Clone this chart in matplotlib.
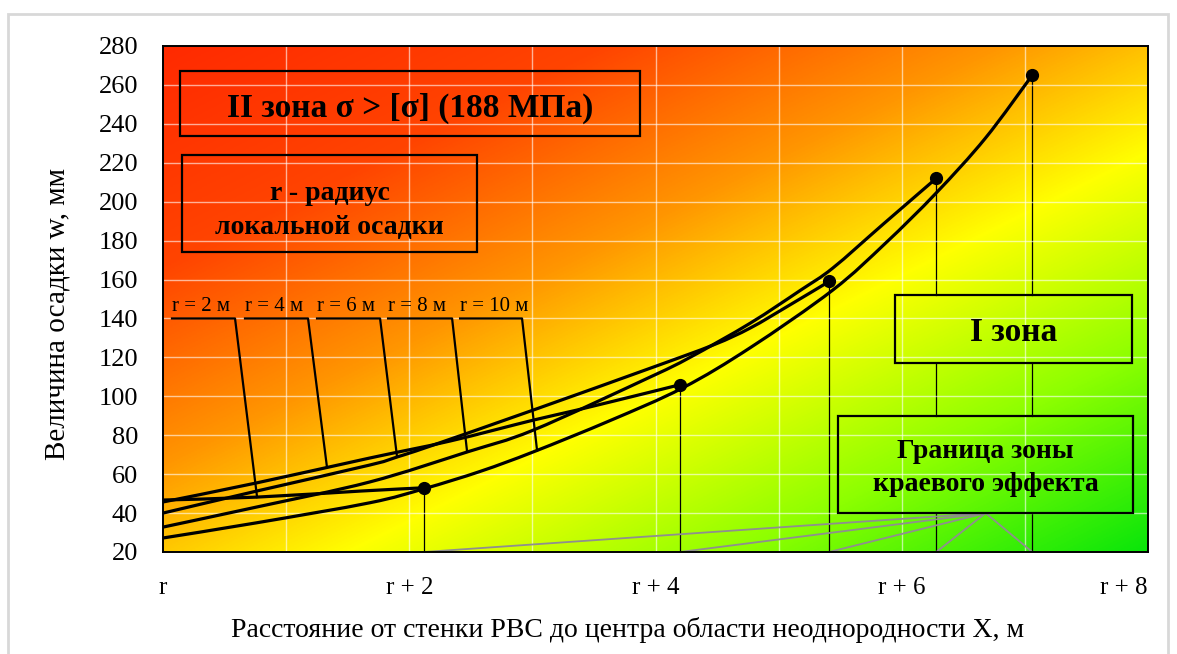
import numpy as np
import matplotlib
matplotlib.use("Agg")
import matplotlib.pyplot as plt
from matplotlib.colors import LinearSegmentedColormap
from matplotlib.patches import Rectangle, PathPatch
from matplotlib.path import Path

plt.rcParams['font.family'] = ['Liberation Serif', 'DejaVu Serif']

# ---- data -----------------------------------------------------------
radius_labels = ['r = 2 м', 'r = 4 м', 'r = 6 м', 'r = 8 м', 'r = 10 м']

# peak settlement of each local settlement radius
peak_x = [2.12, 4.20, 5.41, 6.28, 7.06]
peak_w = [53, 106, 159, 212, 265]

# settlement w (mm) vs distance X from the tank wall, one curve per radius
r2_x = [0.0, 0.76, 1.60, 2.12]
r2_w = [46.7, 48.2, 51.3, 53.0]

r4_x = [0.0, 0.76, 1.68, 2.33, 3.01, 3.36, 3.96, 4.20]
r4_w = [45.7, 55.5, 68.3, 77.0, 87.8, 92.9, 102.2, 106.0]

r6_x = [0.0, 0.76, 1.68, 1.90, 2.17, 3.01, 3.96, 4.47, 4.77, 5.09, 5.41]
r6_w = [40.0, 51.3, 64.7, 68.8, 74.4, 93.0, 114.5, 126.4, 135.1, 146.9, 159.0]

r8_x = [0.0, 0.76, 1.68, 2.47, 3.01, 3.96, 4.28, 4.77, 5.18, 5.44, 5.85, 6.28]
r8_w = [32.8, 43.1, 56.0, 71.4, 82.7, 110.0, 120.0, 137.6, 154.6, 165.9, 188.5, 212.0]

r10_x = [0.0, 0.76, 1.68, 2.12, 2.58, 3.01, 3.63, 4.22, 4.77, 5.44, 5.87, 6.28, 6.68, 7.06]
r10_w = [27.2, 35.0, 45.3, 52.5, 61.5, 71.5, 87.5, 104.3, 125.0, 154.6, 178.8, 204.5, 232.7, 265.0]

curves = [(r2_x, r2_w), (r4_x, r4_w), (r6_x, r6_w), (r8_x, r8_w), (r10_x, r10_w)]

# leader lines from the radius labels to their curves
leader_tip_x = [0.764, 1.332, 1.901, 2.470, 3.038]
label_start_x = [0.073, 0.666, 1.251, 1.828, 2.413]
label_end_x = [0.585, 1.178, 1.763, 2.348, 2.916]
label_w = 140

x_tick_pos = [0, 2, 4, 6, 8]
x_tick_labels = ['r', 'r + 2', 'r + 4', 'r + 6', 'r + 8']
y_ticks = list(range(20, 281, 20))

# ---- figure ---------------------------------------------------------
W_PX, H_PX = 1177, 654
fig = plt.figure(figsize=(W_PX / 100, H_PX / 100), dpi=100)
fig.patch.set_facecolor('white')
ax = fig.add_axes([163 / W_PX, 1 - 552 / H_PX, 985 / W_PX, 506 / H_PX])

XMIN, XMAX, YMIN, YMAX = 0, 8, 20, 280

# diagonal red -> yellow -> green background
zone_cmap = LinearSegmentedColormap.from_list('zone', [
    (0.00, '#ff2a00'), (0.22, '#ff4400'), (0.42, '#ff9600'),
    (0.60, '#ffff00'), (0.80, '#8cff00'), (1.00, '#0ae60a')])
u = np.linspace(0, 1, 700)
v = np.linspace(0, 1, 360)
U, V = np.meshgrid(u, v)
T = (440 * U + 452 * V) / 892
ax.imshow(T, cmap=zone_cmap, vmin=0, vmax=1, extent=[XMIN, XMAX, YMIN, YMAX],
          origin='upper', aspect='auto', interpolation='bilinear', zorder=0)

# text boxes: (x0, x1, w0, w1)
box_zone2 = (0.138, 3.875, 233.8, 267.2)
box_radius = (0.154, 2.551, 174.1, 224.0)
box_zone1 = (5.946, 7.872, 117.1, 152.0)
box_edge = (5.483, 7.880, 40.0, 89.9)
boxes = [box_zone2, box_radius, box_zone1, box_edge]

for x0, x1, w0, w1 in boxes:
    ax.add_patch(Rectangle((x0, w0), x1 - x0, w1 - w0, fill=False,
                           edgecolor='black', lw=1.6, zorder=4))

def centre(b):
    return ((b[0] + b[1]) / 2, (b[2] + b[3]) / 2)

# drop lines from peaks to the axis, interrupted by the boxes they pass behind
for px, pw in zip(peak_x, peak_w):
    gaps = sorted((b[2], b[3]) for b in (box_zone1, box_edge)
                  if b[0] <= px <= b[1])
    lo = YMIN
    for g0, g1 in gaps:
        ax.plot([px, px], [lo, g0], color='black', lw=0.9, zorder=0.3)
        lo = g1
    ax.plot([px, px], [lo, pw], color='black', lw=0.9, zorder=0.3)

# links from the edge-effect box to the foot of each drop line
hub_x, hub_w = centre(box_edge)[0], box_edge[2]
for px in peak_x:
    ax.plot([hub_x, px], [hub_w, YMIN], color='#8f8f8f', lw=1.3, zorder=0.6)

# grid
for gx in range(1, 8):
    ax.axvline(gx, color='white', lw=1.0, alpha=0.6, zorder=0.5)
for gy in y_ticks[1:-1]:
    ax.axhline(gy, color='white', lw=1.0, alpha=0.6, zorder=0.5)

def smooth_path(xs, ys):
    """Smoothed line through the points (Catmull-Rom as cubic Bezier)."""
    p = np.column_stack([xs, ys]).astype(float)
    ext = np.vstack([p[0], p, p[-1]])
    verts = [p[0]]
    codes = [Path.MOVETO]
    for i in range(len(p) - 1):
        a, b, c, d = ext[i], ext[i + 1], ext[i + 2], ext[i + 3]
        verts += [b + (c - a) / 6, c - (d - b) / 6, c]
        codes += [Path.CURVE4] * 3
    return Path(verts, codes)

for cx, cw in curves:
    ax.add_patch(PathPatch(smooth_path(cx, cw), fill=False, edgecolor='black',
                           lw=2.3, capstyle='round', joinstyle='round', zorder=2))
ax.plot(peak_x, peak_w, 'o', color='black', ms=8.5, zorder=3)

# radius labels with leaders
for lab, x0, x1, tip, (cx, cw) in zip(radius_labels, label_start_x, label_end_x,
                                     leader_tip_x, curves):
    tip_w = np.interp(tip, cx, cw)
    ax.plot([x0, x1, tip], [label_w, label_w, tip_w], color='black', lw=1.6,
            zorder=3)
    ax.text(x0, label_w + 1.2, lab, fontsize=15, ha='left', va='bottom', zorder=4)

# box texts
cx2, cy2 = centre(box_zone2)
ax.text(cx2, cy2 - 2.8, 'II зона σ > [σ] (188 МПа)', fontsize=24,
        fontweight='bold', ha='center', va='center', zorder=5)
cxr, cyr = centre(box_radius)
ax.text(cxr, cyr - 3.6, 'r - радиус\nлокальной осадки', fontsize=20,
        fontweight='bold', ha='center', va='center', linespacing=1.45, zorder=5)
cx1, cy1 = centre(box_zone1)
ax.text(cx1, cy1 - 2.0, 'I зона', fontsize=24, fontweight='bold',
        ha='center', va='center', zorder=5)
cxe, cye = centre(box_edge)
ax.text(cxe, cye - 1.8, 'Граница зоны\nкраевого эффекта', fontsize=20,
        fontweight='bold', ha='center', va='center', linespacing=1.45, zorder=5)

# axes
ax.set_xlim(XMIN, XMAX)
ax.set_ylim(YMIN, YMAX)
ax.set_xticks(x_tick_pos)
ax.set_xticklabels(x_tick_labels, fontsize=18)
ax.get_xticklabels()[-1].set_ha('right')
ax.set_yticks(y_ticks)
ax.set_yticklabels([str(t) for t in y_ticks], fontsize=19)
ax.tick_params(axis='both', length=0)
ax.tick_params(axis='x', pad=18)
ax.tick_params(axis='y', pad=18)
for s in ax.spines.values():
    s.set_linewidth(1.4)
    s.set_color('black')
    s.set_zorder(6)

fig.text(58 / W_PX, 1 - 314 / H_PX, 'Величина осадки w, мм', rotation=90,
         ha='center', va='center', fontsize=21)
fig.text(628 / W_PX, 1 - 630 / H_PX,
         'Расстояние от стенки РВС до центра области неоднородности X, м',
         ha='center', va='center', fontsize=20)

# outer frame
fig.patches.append(Rectangle((8 / W_PX, -0.02), 1160 / W_PX, 1 - 14 / H_PX + 0.02,
                             transform=fig.transFigure, fill=False,
                             edgecolor='#d8d8d8', lw=2))

fig.savefig('out.png', dpi=100)
